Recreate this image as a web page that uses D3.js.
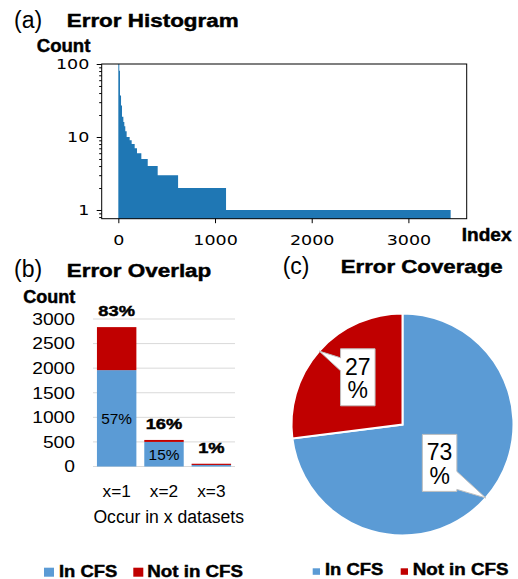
<!DOCTYPE html>
<html>
<head>
<meta charset="utf-8">
<script src="https://cdn.jsdelivr.net/npm/d3@7"></script>
<style>
  body { margin: 0; background: #fff; }
</style>
</head>
<body>
<script>
// (a) sorted error counts: one step per count level
const histCounts = [100, 81, 37, 27, 19, 16, 14, 12, 10, 9, 8, 7, 6, 5, 4, 3, 2, 1];
const histStart  = [0, 10, 17, 28, 38, 52, 62, 72, 86, 117, 138, 169, 193, 238, 304, 407, 618, 1114];
const histEnd = 3437;
const histXTicks = [0, 1000, 2000, 3000];
const histYTicks = [1, 10, 100];

// (b) error overlap
const overlapCats = ["x=1", "x=2", "x=3"];
const overlapIn = [1960, 500, 38];
const overlapNotIn = [875, 40, 18];
const overlapTotalPct = ["83%", "16%", "1%"];
const overlapInPct = ["57%", "15%", ""];
const overlapYTicks = [0, 500, 1000, 1500, 2000, 2500, 3000];

// (c) error coverage
const coverageLabels = ["In CFS", "Not in CFS"];
const coverageVals = [73, 27];

const BLUE = "#5B9BD5", RED = "#C00000", HBLUE = "#1f77b4";
const ARIAL = "'Liberation Sans', Arial, sans-serif";
const DEJA = "'DejaVu Sans', sans-serif";

const svg = d3.select("body").append("svg")
    .attr("width", 518)
    .attr("height", 579);

// text helper, sx stretches glyphs horizontally like the reference
function label(g, x, y, s, size, o = {}) {
    const t = g.append("text")
        .attr("transform", `translate(${x},${y}) scale(${o.sx || 1},1)`)
        .attr("text-anchor", o.anchor || "start")
        .attr("font-family", o.family || ARIAL)
        .attr("font-size", size)
        .attr("font-weight", o.bold ? "bold" : "normal")
        .attr("fill", "#000")
        .text(s);
    if (o.bold) t.attr("stroke", "#000").attr("stroke-width", 0.45);
    return t;
}

// panel titles
label(svg, 14, 27.5, "(a)", 23);
label(svg, 66.7, 26.7, "Error Histogram", 18.7, {bold: true, sx: 1.2});
label(svg, 14, 277, "(b)", 23);
label(svg, 66.7, 276.7, "Error Overlap", 18.7, {bold: true, sx: 1.2});
label(svg, 282.7, 273.5, "(c)", 23);
label(svg, 340.7, 273.3, "Error Coverage", 18.7, {bold: true, sx: 1.19});

// ---------- (a) histogram ----------
const xA = d3.scaleLinear().domain([-172, 3603]).range([101.7, 466.7]);
const yA = d3.scaleLog().domain([0.76, 100]).range([218.7, 64]);

const gA = svg.append("g");
const stepPts = histCounts.map((c, i) => ({x: histStart[i], c: c}));
stepPts.push({x: histEnd, c: histCounts[histCounts.length - 1]});

gA.append("path")
    .datum(stepPts)
    .attr("d", d3.area()
        .curve(d3.curveStepAfter)
        .x(d => xA(d.x))
        .y0(yA.range()[0])
        .y1(d => yA(d.c)))
    .attr("fill", HBLUE);

gA.append("rect")
    .attr("x", xA.range()[0]).attr("y", yA.range()[1])
    .attr("width", xA.range()[1] - xA.range()[0])
    .attr("height", yA.range()[0] - yA.range()[1])
    .attr("fill", "none").attr("stroke", "#000").attr("stroke-width", 1);

const minorA = yA.ticks().filter(v => !histYTicks.includes(v));
gA.append("g")
    .attr("transform", `translate(${xA.range()[0]},0)`)
    .call(d3.axisLeft(yA).tickValues(minorA).tickSize(2.5).tickFormat(""))
    .call(g => g.select(".domain").remove());

const axYA = gA.append("g")
    .attr("transform", `translate(${xA.range()[0]},0)`)
    .call(d3.axisLeft(yA).tickValues(histYTicks).tickSize(5).tickFormat(d3.format("d")));
axYA.select(".domain").remove();
axYA.selectAll("text")
    .attr("x", null).attr("dy", null)
    .attr("transform", "translate(-12.4,0) scale(1.25,1)")
    .attr("dominant-baseline", "central")
    .attr("font-family", DEJA).attr("font-size", 14).attr("fill", "#000");

const axXA = gA.append("g")
    .attr("transform", `translate(0,${yA.range()[0]})`)
    .call(d3.axisBottom(xA).tickValues(histXTicks).tickSize(4.5).tickFormat(d3.format("d")));
axXA.select(".domain").remove();
axXA.selectAll("text")
    .attr("y", null).attr("dy", null)
    .attr("transform", "translate(0,26.3) scale(1.25,1)")
    .attr("font-family", DEJA).attr("font-size", 14).attr("fill", "#000");

label(svg, 36.7, 51.7, "Count", 18.6, {bold: true});
label(svg, 461.7, 241, "Index", 18, {bold: true, sx: 1.06});

// ---------- (b) stacked bars ----------
const xB = d3.scaleBand().domain(overlapCats).range([93, 235])
    .paddingInner(0.167).paddingOuter(0.0833);
const yB = d3.scaleLinear().domain([0, 3000]).range([466.5, 319]);

const gB = svg.append("g");
gB.selectAll("line.grid")
    .data(overlapYTicks)
    .enter().append("line")
    .attr("class", "grid")
    .attr("x1", 93).attr("x2", 235)
    .attr("y1", d => yB(d)).attr("y2", d => yB(d))
    .attr("stroke", "#d9d9d9").attr("stroke-width", 1);

overlapYTicks.forEach(v => label(gB, 75, yB(v) + 5.8, String(v), 16.3, {anchor: "end", sx: 1.18}));

const rows = overlapCats.map((c, i) => ({cat: c, inCFS: overlapIn[i], notIn: overlapNotIn[i]}));
const stacked = d3.stack().keys(["inCFS", "notIn"])(rows);
const colorB = d3.scaleOrdinal().domain(["inCFS", "notIn"]).range([BLUE, RED]);

gB.selectAll("g.layer")
    .data(stacked)
    .enter().append("g")
    .attr("class", "layer")
    .attr("fill", d => colorB(d.key))
    .selectAll("rect")
    .data(d => d)
    .enter().append("rect")
    .attr("x", d => xB(d.data.cat))
    .attr("width", xB.bandwidth())
    .attr("y", d => yB(d[1]))
    .attr("height", d => Math.max(yB(d[0]) - yB(d[1]), 1.2));

rows.forEach((r, i) => {
    const cx = xB(r.cat) + xB.bandwidth() / 2;
    label(gB, cx, yB(r.inCFS + r.notIn) - 10.7, overlapTotalPct[i], 15, {bold: true, anchor: "middle", sx: 1.22});
    if (overlapInPct[i]) {
        label(gB, cx, (yB(0) + yB(r.inCFS)) / 2 + 5.8, overlapInPct[i], 15.4, {anchor: "middle"});
    }
    label(gB, cx, 496.7, r.cat, 16.3, {anchor: "middle", sx: 1.06});
});

label(gB, 168.7, 522.7, "Occur in x datasets", 17.6, {anchor: "middle", sx: 1.0});
label(svg, 23.3, 303.3, "Count", 18, {bold: true});

// legend (b)
gB.append("rect").attr("x", 44).attr("y", 567.7).attr("width", 10).attr("height", 9).attr("fill", BLUE);
label(gB, 59, 576.7, coverageLabels[0], 16.3, {bold: true, sx: 1.13});
gB.append("rect").attr("x", 133.3).attr("y", 567.7).attr("width", 10).attr("height", 9).attr("fill", RED);
label(gB, 147.3, 576.7, coverageLabels[1], 16.3, {bold: true, sx: 1.15});

// ---------- (c) pie ----------
const cx = 402.5, cy = 424.5, r = 111;
const gC = svg.append("g").attr("transform", `translate(${cx},${cy})`);
const pie = d3.pie().sort(null).value(d => d);
const arcs = pie(coverageVals);
const arc = d3.arc().innerRadius(0).outerRadius(r);
const colorC = [BLUE, RED];

gC.selectAll("path.slice")
    .data(arcs)
    .enter().append("path")
    .attr("class", "slice")
    .attr("d", arc)
    .attr("fill", (d, i) => colorC[i])
    .attr("stroke", "#fff")
    .attr("stroke-width", 2);

// callout labels: box near the centre, pointer to the arc midpoint
const boxW = 34.5, boxH = 57;
const labelPos = [{rad: 53.4, off: 0.08, side: "right"}, {rad: 65, off: 0.09, side: "left"}];
arcs.forEach((a, i) => {
    const mid = (a.startAngle + a.endAngle) / 2;
    const tip = [Math.sin(mid) * r, -Math.cos(mid) * r];
    const ang = mid + labelPos[i].off;
    const bx = Math.sin(ang) * labelPos[i].rad - boxW / 2;
    const by = -Math.cos(ang) * labelPos[i].rad - boxH / 2;
    let pts;
    if (labelPos[i].side === "right") {
        pts = [[bx, by], [bx + boxW, by], [bx + boxW, by + 37], tip, [bx + boxW, by + 55], [bx + boxW, by + boxH], [bx, by + boxH]];
    } else {
        pts = [[bx, by], [bx + boxW, by], [bx + boxW, by + boxH], [bx, by + boxH], [bx, by + 22], tip, [bx, by + 9]];
    }
    gC.append("path")
        .attr("d", d3.line()(pts) + "Z")
        .attr("fill", "#fff")
        .attr("stroke", "#bfbfbf")
        .attr("stroke-width", 1);
    label(gC, bx + boxW / 2, by + 25.8, String(coverageVals[i]), 23, {anchor: "middle"});
    label(gC, bx + boxW / 2, by + 49.3, "%", 23, {anchor: "middle"});
});

// legend (c)
const gL = svg.append("g");
gL.append("rect").attr("x", 312.7).attr("y", 568.3).attr("width", 7.3).attr("height", 6.5).attr("fill", BLUE);
label(gL, 325, 575, coverageLabels[0], 16.3, {bold: true, sx: 1.13});
gL.append("rect").attr("x", 400.7).attr("y", 568.3).attr("width", 7.3).attr("height", 6.5).attr("fill", RED);
label(gL, 412.7, 575, coverageLabels[1], 16.3, {bold: true, sx: 1.15});
</script>
</body>
</html>
